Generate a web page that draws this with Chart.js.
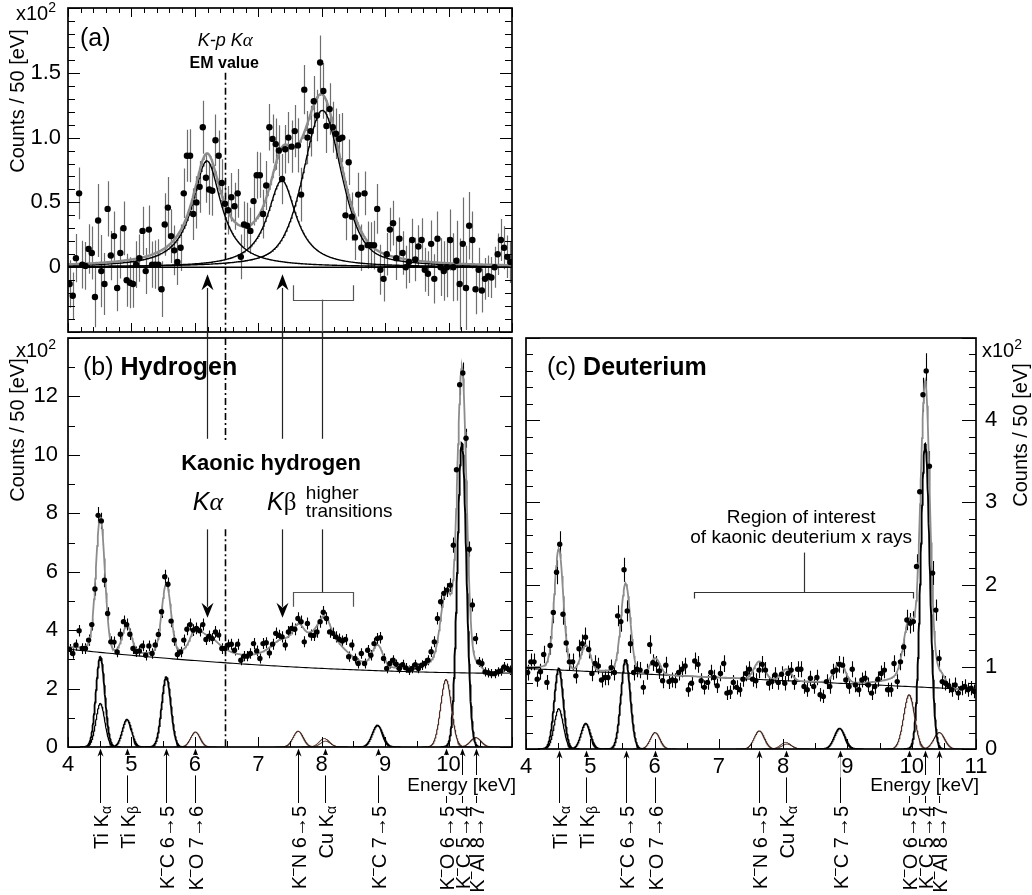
<!DOCTYPE html>
<html>
<head>
<meta charset="utf-8">
<title>Kaonic hydrogen and kaonic deuterium x-ray spectra</title>
<script src="https://cdn.jsdelivr.net/npm/chart.js@4.4.1/dist/chart.umd.min.js"></script>
<style>
  html, body { margin: 0; padding: 0; background: #fff; }
  #wrap { position: relative; width: 1032px; height: 895px; overflow: hidden; background: #fff; }
  canvas { position: absolute; }
</style>
</head>
<body>
<div id="wrap">
  <canvas id="panelA" width="520" height="338" style="left:0px;top:0px;width:520px;height:338px"></canvas>
  <canvas id="panelB" width="520" height="563" style="left:0px;top:332px;width:520px;height:563px"></canvas>
  <canvas id="panelC" width="532" height="563" style="left:500px;top:332px;width:532px;height:563px"></canvas>
</div>
<script>
const FONT = '"Liberation Sans", Arial, Helvetica, sans-serif';
const SERIF = '"Liberation Serif", "DejaVu Serif", serif';
const TICK_SIZE = 22;

// 50 eV bins between 4 and 11 keV (bin centres start at 4.025 keV)
const BIN_START = 4.025;
const BIN_WIDTH = 0.05;

// (a) hydrogen spectrum after subtraction of continuum and background lines [x10^2 counts / 50 eV]
const hydrogenSubtracted = [
  -0.13, -0.22, 0.07, 0.57, 0.02, 0.01, 0.14, 0.11, -0.23, 0.36,
  -0.03, -0.13, 0.45, 0.09, 0.24, -0.16, 0.11, 0.30, -0.10, -0.12,
  -0.13, 0.02, 0.07, 0.28, -0.03, 0.29, 0.02, 0.02, 0.02, -0.17,
  0.33, 0.46, 0.24, 0.13, 0.04, 0.15, 0.57, 0.86, 0.86, 0.41,
  0.50, 0.62, 1.08, 0.69, 0.60, 0.59, 0.98, 0.86, 0.65, 0.49,
  0.44, 0.54, 0.47, 0.57, 0.08, 0.33, 0.32, 0.28, 0.51, 0.71,
  0.71, 0.41, 0.63, 1.08, 0.99, 0.95, 0.90, 0.68, 0.91, 1.00,
  0.93, 1.05, 0.94, 0.56, 1.37, 1.00, 1.05, 1.28, 1.17, 1.58,
  1.36, 1.09, 1.22, 1.08, 1.03, 0.99, 1.00, 0.40, 0.81, 0.39,
  0.23, 0.56, 0.15, 0.57, 0.17, 0.17, 0.17, 0.45, -0.02, -0.09,
  0.10, 0.29, 0.34, 0.07, 0.22, 0.11, 0.00, 0.04, 0.21, 0.06,
  0.16, 0.21, -0.02, -0.05, 0.18, -0.09, 0.22, 0.00, -0.03, 0.00,
  0.21, 0.00, 0.05, -0.13, 0.18, -0.16, 0.32, 0.21, -0.17, -0.02,
  -0.18, -0.09, -0.07, -0.08, 0.00, 0.10, 0.21, 0.15, 0.08, 0.04
];

// (b) hydrogen target, raw spectrum [x10^2 counts / 50 eV]
const hydrogenCounts = [
  3.34, 3.20, 3.49, 3.98, 3.37, 3.37, 3.66, 4.19, 5.41, 7.93,
  7.74, 5.71, 4.57, 3.60, 3.59, 3.25, 3.86, 4.29, 4.19, 3.86,
  3.37, 3.26, 3.29, 3.46, 3.14, 3.46, 3.20, 3.49, 3.85, 4.63,
  5.83, 5.57, 4.31, 3.66, 3.17, 3.25, 3.66, 4.03, 4.19, 4.00,
  4.06, 3.98, 4.19, 3.68, 3.79, 3.71, 3.94, 3.83, 3.37, 3.37,
  3.49, 3.52, 3.31, 3.52, 2.97, 3.11, 3.11, 3.20, 3.54, 3.29,
  3.03, 3.54, 3.57, 3.22, 3.52, 3.89, 3.82, 3.77, 3.49, 3.94,
  4.06, 4.03, 4.40, 4.29, 3.60, 4.23, 3.83, 3.82, 3.94, 4.29,
  4.61, 4.40, 3.94, 3.89, 3.77, 3.69, 3.63, 3.68, 3.09, 3.49,
  3.03, 2.86, 3.20, 2.86, 3.31, 3.14, 3.54, 3.71, 3.74, 3.03,
  2.69, 2.86, 2.97, 2.83, 2.69, 2.82, 2.71, 2.63, 2.69, 2.82,
  2.69, 2.80, 2.86, 2.97, 3.26, 3.60, 4.40, 4.97, 5.26, 5.37,
  5.54, 6.91, 9.49, 12.40, 12.80, 10.57, 6.77, 4.86, 3.71, 2.91,
  2.86, 2.57, 2.54, 2.51, 2.51, 2.57, 2.60, 2.74, 2.69, 2.63
];

// (c) deuterium target, raw spectrum [x10^2 counts / 50 eV]
const deuteriumCounts = [
  0.93, 1.06, 1.06, 0.85, 0.94, 1.15, 0.81, 1.26, 1.66, 2.15,
  2.49, 1.64, 1.29, 1.06, 1.06, 0.89, 1.22, 1.28, 1.36, 1.21,
  0.92, 1.04, 1.01, 0.84, 0.87, 0.87, 0.99, 0.93, 1.62, 1.55,
  2.18, 1.68, 1.28, 0.93, 0.97, 0.96, 0.75, 0.94, 1.27, 1.05,
  1.03, 0.95, 0.83, 1.02, 0.82, 0.84, 0.83, 0.93, 0.97, 1.01,
  0.72, 0.80, 1.07, 1.03, 0.83, 0.75, 0.81, 0.93, 0.87, 0.77,
  0.92, 1.04, 0.68, 0.69, 0.81, 0.75, 0.72, 0.85, 0.92, 0.97,
  0.85, 0.83, 0.96, 1.03, 0.96, 0.80, 0.82, 0.90, 0.81, 0.91,
  0.80, 0.92, 0.96, 0.81, 0.97, 0.97, 0.76, 0.72, 0.86, 0.76,
  0.87, 0.66, 0.64, 0.82, 0.76, 0.94, 0.96, 1.03, 1.02, 0.84,
  0.76, 0.97, 0.78, 0.72, 0.84, 0.86, 0.78, 0.68, 0.76, 0.85,
  0.92, 0.96, 0.72, 0.72, 1.04, 0.82, 1.06, 1.24, 1.57, 1.53,
  1.55, 2.22, 3.13, 4.31, 4.60, 3.44, 2.14, 1.69, 1.10, 0.82,
  0.80, 0.77, 0.72, 0.78, 0.68, 0.74, 0.76, 0.72, 0.74, 0.70
];

// kaonic hydrogen lines: centroid [keV], height [x10^2], FWHM [keV], Lorentzian fraction
const khEnergy  = [6.19, 7.37, 8.01];
const khHeight  = [0.82, 0.67, 1.21];
const khWidth   = [0.55, 0.55, 0.72];
const khLorentz = [1.0, 1.0, 0.5];

// electromagnetic value of the K-p Kα energy [keV]
const EM_KALPHA = 6.48;

// identified background lines (labels under the energy axes)
const lineLabels = ['Ti Kα', 'Ti Kβ', 'K⁻C 6→5', 'K⁻O 7→6', 'K⁻N 6→5', 'Cu Kα', 'K⁻C 7→5', 'K⁻O 6→5', 'K⁻C 5→4', 'K⁻Al 8→7'];
const lineLabelEnergy = [4.51, 4.93, 5.55, 6.01, 7.63, 8.05, 8.88, 9.96, 10.21, 10.43];

// fitted background-line components: centroid [keV], gaussian sigma [keV]
const compEnergy = [4.51, 4.51, 4.93, 5.55, 6.01, 7.63, 8.04, 8.06, 8.88, 9.96, 10.21, 10.43];
const compSigma  = [0.070, 0.070, 0.072, 0.072, 0.075, 0.080, 0.080, 0.080, 0.082, 0.085, 0.072, 0.085];
const compColor  = ['#000', '#000', '#000', '#000', '#4a2c22', '#4a2c22', '#4a2c22', '#4a2c22', '#000', '#4a2c22', '#000', '#4a2c22'];
const compLineW  = [1.8, 1.2, 1.6, 1.8, 1.1, 1.1, 1.0, 1.0, 1.6, 1.2, 1.9, 1.1];
// component heights [x10^2] for hydrogen (b) and deuterium (c)
const compHeightH = [3.09, 1.49, 0.94, 2.40, 0.51, 0.54, 0.29, 0.20, 0.74, 2.31, 10.40, 0.32];
const compHeightD = [0.98, 0.49, 0.31, 1.09, 0.20, 0.22, 0.08, 0.06, 0.25, 0.66, 3.71, 0.20];
// low-energy tail fraction of each line (enters the fit total)
const compTail = [0.05, 0.05, 0.05, 0.05, 0.05, 0.05, 0, 0, 0.05, 0.10, 0.10, 0.05];
const TAIL_SLOPE = 0.3;

// smooth continuum, polynomial coefficients in (E - 4 keV)
const bgHydrogen  = [3.35, -0.2266, 0.01543];
const bgDeuterium = [0.98, -0.037, 0];

/* ---------- line shapes ---------- */
function poly(c, e) { const t = e - 4; return c[0] + c[1] * t + c[2] * t * t; }
function gauss(e, e0, s) { const d = (e - e0) / s; return Math.exp(-0.5 * d * d); }
function lowTail(e, e0, s) { return e >= e0 ? 0 : Math.exp((e - e0) / TAIL_SLOPE) * (1 - gauss(e, e0, s)); }
function pseudoVoigt(e, e0, fwhm, eta) {
  const h = (e - e0) / (fwhm / 2);
  return eta / (1 + h * h) + (1 - eta) * Math.exp(-Math.LN2 * h * h);
}
function khLine(k, e) { return khHeight[k] * pseudoVoigt(e, khEnergy[k], khWidth[k], khLorentz[k]); }
function khSignal(e) { let s = 0; for (let k = 0; k < khEnergy.length; k++) s += khLine(k, e); return s; }
function comp(h, j, e) { return h[j] * gauss(e, compEnergy[j], compSigma[j]); }
function compTotal(h, j, e) { return comp(h, j, e) + h[j] * compTail[j] * lowTail(e, compEnergy[j], compSigma[j]); }
function hydrogenFit(e) { let s = poly(bgHydrogen, e) + khSignal(e); for (let j = 0; j < compEnergy.length; j++) s += compTotal(compHeightH, j, e); return s; }
function deuteriumFit(e) { let s = poly(bgDeuterium, e); for (let j = 0; j < compEnergy.length; j++) s += compTotal(compHeightD, j, e); return s; }

function energyOf(i) { return BIN_START + i * BIN_WIDTH; }
function toPoints(vals) { return vals.map((v, i) => ({ x: energyOf(i), y: v })); }
function curve(fn, e0, e1, step) {
  const pts = []; const n = Math.round((e1 - e0) / step);
  for (let k = 0; k <= n; k++) { const e = e0 + k * step; pts.push({ x: e, y: fn(e) }); }
  return pts;
}
const poisson = vals => vals.map(v => Math.sqrt(Math.max(v, 0) * 100) / 100);

/* ---------- drawing helpers ---------- */
const snap = v => Math.round(v) + 0.5;
function vline(ctx, x, y0, y1) { ctx.beginPath(); ctx.moveTo(x, y0); ctx.lineTo(x, y1); ctx.stroke(); }
function arrowHead(ctx, x, yTip, dir, len, hw) {
  ctx.beginPath();
  ctx.moveTo(x, yTip);
  ctx.lineTo(x - hw, yTip + dir * len);
  ctx.lineTo(x, yTip + dir * len * 0.68);
  ctx.lineTo(x + hw, yTip + dir * len);
  ctx.closePath(); ctx.fill();
}
function bracket(ctx, x0, x1, yH, yEnd) {
  ctx.beginPath();
  ctx.moveTo(snap(x0), yEnd); ctx.lineTo(snap(x0), snap(yH)); ctx.lineTo(snap(x1), snap(yH)); ctx.lineTo(snap(x1), yEnd);
  ctx.stroke();
}
function dashDot(ctx, x, y0, y1) {
  ctx.save(); ctx.strokeStyle = '#000'; ctx.lineWidth = 1.6; ctx.setLineDash([7, 3, 2, 3]);
  vline(ctx, snap(x), y0, y1); ctx.restore();
}
function drawRich(ctx, parts, x, y, align) {
  let w = 0;
  for (const p of parts) { ctx.font = p.font; w += ctx.measureText(p.t).width; }
  let cx = align === 'center' ? x - w / 2 : align === 'right' ? x - w : x;
  ctx.textAlign = 'left'; ctx.textBaseline = 'alphabetic';
  for (const p of parts) { ctx.font = p.font; ctx.fillText(p.t, cx, y + (p.dy || 0)); cx += ctx.measureText(p.t).width; }
}
function labelParts(s, size) {
  const base = `${size}px ${FONT}`, small = `${Math.round(size * 0.72)}px ${FONT}`;
  const parts = []; let buf = '';
  for (const ch of s) {
    if (ch === '⁻') { if (buf) parts.push({ t: buf, font: base }); buf = ''; parts.push({ t: '–', font: small, dy: -size * 0.42 }); }
    else if (ch === 'α' || ch === 'β') { if (buf) parts.push({ t: buf, font: base }); buf = ''; parts.push({ t: ch, font: small, dy: size * 0.16 }); }
    else buf += ch;
  }
  if (buf) parts.push({ t: buf, font: base });
  return parts;
}
function yTitle(ctx, cx, cy) {
  ctx.save(); ctx.translate(cx, cy); ctx.rotate(-Math.PI / 2);
  ctx.font = `20px ${FONT}`; ctx.fillStyle = '#000'; ctx.textAlign = 'center'; ctx.textBaseline = 'middle';
  ctx.fillText('Counts / 50 [eV]', 0, 0); ctx.restore();
}
function times100(ctx, x, y) {
  ctx.fillStyle = '#000';
  drawRich(ctx, [{ t: 'x10', font: `20px ${FONT}` }, { t: '2', font: `14px ${FONT}`, dy: -8 }], x, y, 'left');
}
function drawFrame(ctx, a) {
  ctx.save(); ctx.strokeStyle = '#000'; ctx.lineWidth = 1.7;
  ctx.strokeRect(a.left, a.top, a.right - a.left, a.bottom - a.top); ctx.restore();
}
function steps(min, max, st) { const r = []; const n = Math.round((max - min) / st); for (let k = 0; k <= n; k++) r.push(min + k * st); return r; }
function isMajor(v, m) { return Math.abs(v / m - Math.round(v / m)) < 1e-6; }
function drawTicks(ctx, chart, o) {
  const { chartArea: a, scales: { x, y } } = chart;
  ctx.save(); ctx.strokeStyle = '#000'; ctx.lineWidth = 1; ctx.beginPath();
  for (const v of steps(y.min, y.max, o.yMinor)) {
    const L = isMajor(v, o.yMajor) ? o.yMaj : o.yMin;
    const py = snap(y.getPixelForValue(v));
    if (o.left) { ctx.moveTo(a.left, py); ctx.lineTo(a.left + L, py); }
    if (o.right) { ctx.moveTo(a.right, py); ctx.lineTo(a.right - L, py); }
  }
  for (const v of steps(x.min, x.max, o.xMinor)) {
    const L = isMajor(v, o.xMajor) ? o.xMaj : o.xMin;
    const px = snap(x.getPixelForValue(v));
    if (o.bottom) { ctx.moveTo(px, a.bottom); ctx.lineTo(px, a.bottom - L); }
    if (o.top) { ctx.moveTo(px, a.top); ctx.lineTo(px, a.top + L); }
  }
  ctx.stroke(); ctx.restore();
}
function drawLineMarkers(chart, labelTop) {
  const { ctx, chartArea: a, scales: { x } } = chart;
  ctx.save(); ctx.strokeStyle = '#000'; ctx.fillStyle = '#000'; ctx.lineWidth = 1;
  lineLabelEnergy.forEach((e, i) => {
    const px = snap(x.getPixelForValue(e));
    vline(ctx, px, a.bottom + 6, labelTop - 3);
    arrowHead(ctx, px, a.bottom + 1.5, 1, 8, 3);
    ctx.save(); ctx.translate(px, labelTop); ctx.rotate(-Math.PI / 2);
    drawRich(ctx, labelParts(lineLabels[i], 20), 0, 7, 'right');
    ctx.restore();
  });
  ctx.restore();
}
function energyLabel(ctx, xr, yb) {
  ctx.save(); ctx.font = `19px ${FONT}`;
  const w = ctx.measureText('Energy [keV]').width;
  ctx.fillStyle = '#fff'; ctx.fillRect(xr - w - 2, yb - 16, w + 4, 21);
  ctx.fillStyle = '#000'; ctx.textAlign = 'right'; ctx.textBaseline = 'alphabetic';
  ctx.fillText('Energy [keV]', xr, yb); ctx.restore();
}

/* error bars under the data points */
const errorBars = {
  id: 'errorBars',
  beforeDatasetsDraw(chart) {
    const { ctx, chartArea: a } = chart; const ys = chart.scales.y;
    chart.data.datasets.forEach((ds, di) => {
      if (!ds.errors) return;
      const meta = chart.getDatasetMeta(di);
      ctx.save();
      ctx.beginPath(); ctx.rect(a.left, a.top, a.right - a.left, a.bottom - a.top); ctx.clip();
      ctx.strokeStyle = ds.errorColor; ctx.lineWidth = ds.errorWidth; ctx.beginPath();
      meta.data.forEach((pt, i) => {
        const v = ds.data[i].y, e = ds.errors[i], px = snap(pt.x);
        ctx.moveTo(px, ys.getPixelForValue(v + e)); ctx.lineTo(px, ys.getPixelForValue(v - e));
      });
      ctx.stroke(); ctx.restore();
    });
  }
};

/* ---------- chart construction ---------- */
Chart.defaults.font.family = FONT;
Chart.defaults.color = '#000';

function yAxis(min, max, step, pos, width, pad, fmt) {
  return {
    type: 'linear', position: pos, min, max,
    afterFit(s) { s.width = width; s.paddingTop = 0; s.paddingBottom = 0; },
    grid: { drawOnChartArea: false, drawTicks: false }, border: { display: false },
    ticks: { stepSize: step, padding: pad, color: '#000', font: { family: FONT, size: TICK_SIZE }, callback: fmt }
  };
}
function xAxis(fmt) {
  return {
    type: 'linear', position: 'bottom', min: 4, max: 11,
    afterFit(s) { s.height = 40; s.paddingLeft = 0; s.paddingRight = 0; },
    grid: { drawOnChartArea: false, drawTicks: false }, border: { display: false },
    ticks: {
      stepSize: 1, padding: 5, autoSkip: false, maxRotation: 0, color: '#000',
      font: { family: FONT, size: TICK_SIZE },
      showLabelBackdrop: true, backdropColor: '#fff', backdropPadding: { x: 1, y: -3 },
      callback: fmt
    }
  };
}
function makeChart(id, datasets, scales, padding, plugins) {
  return new Chart(document.getElementById(id), {
    type: 'line',
    data: { datasets },
    options: {
      responsive: false, animation: false, devicePixelRatio: 1, events: [],
      layout: { padding },
      plugins: { legend: { display: false }, tooltip: { enabled: false } },
      elements: { line: { tension: 0 }, point: { radius: 0 } },
      scales
    },
    plugins
  });
}
function pointSet(vals, errs, r, errColor, errWidth) {
  return {
    data: toPoints(vals), errors: errs, showLine: false,
    pointRadius: r, pointBackgroundColor: '#000', pointBorderWidth: 0,
    errorColor: errColor, errorWidth: errWidth
  };
}
function lineSet(data, color, width) { return { data, borderColor: color, borderWidth: width, pointRadius: 0, fill: false }; }
function componentSets(h) {
  return compEnergy.map((e0, j) => lineSet(
    curve(e => comp(h, j, e), e0 - 4.5 * compSigma[j], e0 + 4.5 * compSigma[j], 0.004),
    compColor[j], compLineW[j]));
}

/* (a) background-subtracted hydrogen spectrum */
const panelAPlugin = {
  id: 'panelA',
  afterDraw(chart) {
    const { ctx, chartArea: a, scales: { x, y } } = chart;
    const X = v => x.getPixelForValue(v), Y = v => y.getPixelForValue(v);
    drawTicks(ctx, chart, { xMinor: 0.2, xMajor: 1, yMinor: 0.1, yMajor: 0.5, xMaj: 9, xMin: 5, yMaj: 12, yMin: 7, left: true, right: true, top: true, bottom: true });
    drawFrame(ctx, a);
    dashDot(ctx, X(EM_KALPHA), Y(1.5), a.bottom);
    ctx.save();
    ctx.strokeStyle = '#222'; ctx.fillStyle = '#000'; ctx.lineWidth = 1.2;
    for (const e of [khEnergy[0], khEnergy[1]]) {
      const px = snap(X(e));
      vline(ctx, px, Y(-0.16), chart.height);
      arrowHead(ctx, px, Y(-0.055), 1, 16, 6);
    }
    ctx.strokeStyle = '#555';
    bracket(ctx, X(7.55), X(8.5), Y(-0.25), Y(-0.14));
    vline(ctx, snap(X(khEnergy[2])), Y(-0.25), chart.height);
    ctx.fillStyle = '#000';
    drawRich(ctx, [{ t: '(a)', font: `25px ${FONT}` }], a.left + 12, a.top + 38, 'left');
    times100(ctx, 16, 20);
    yTitle(ctx, 18, 101);
    drawRich(ctx, [{ t: 'K-p K', font: `italic 18px ${FONT}` }, { t: 'α', font: `italic 19px ${SERIF}` }], X(EM_KALPHA), Y(1.71), 'center');
    drawRich(ctx, [{ t: 'EM value', font: `bold 16px ${FONT}` }], X(EM_KALPHA) - 1, Y(1.54), 'center');
    ctx.restore();
  }
};

makeChart('panelA', [
  pointSet(hydrogenSubtracted, poisson(hydrogenCounts), 3.2, '#6e6e6e', 1.2),
  lineSet(curve(khSignal, 4, 11, 0.01), '#8c8c8c', 2.4),
  lineSet(curve(e => khLine(0, e), 4, 11, 0.01), '#000', 1.4),
  lineSet(curve(e => khLine(1, e), 4, 11, 0.01), '#000', 1.4),
  lineSet(curve(e => khLine(2, e), 4, 11, 0.01), '#000', 1.4),
  lineSet([{ x: 4, y: 0 }, { x: 11, y: 0 }], '#000', 1.6)
], {
  x: { type: 'linear', min: 4, max: 11, display: false },
  y: yAxis(-0.5, 2.0, 0.5, 'left', 60, 7, v => (v === 0 ? '0' : (v > 0 && v < 2 ? v.toFixed(1) : '')))
}, { left: 8, right: 8, top: 8, bottom: 6 }, [errorBars, panelAPlugin]);

/* (b) hydrogen */
const panelBPlugin = {
  id: 'panelB',
  beforeDraw(chart) { drawLineMarkers(chart, chart.chartArea.bottom + 59); },
  afterDraw(chart) {
    const { ctx, chartArea: a, scales: { x, y } } = chart;
    const X = v => x.getPixelForValue(v), Y = v => y.getPixelForValue(v);
    drawTicks(ctx, chart, { xMinor: 0.5, xMajor: 1, yMinor: 1, yMajor: 2, xMaj: 10, xMin: 6, yMaj: 12, yMin: 7, left: true, right: true, top: false, bottom: true });
    drawFrame(ctx, a);
    ctx.save();
    ctx.strokeStyle = '#222'; ctx.fillStyle = '#000'; ctx.lineWidth = 1.2;
    for (const e of khEnergy) vline(ctx, snap(X(e)), 0, Y(10.55));
    dashDot(ctx, X(EM_KALPHA), a.top, Y(10.5));
    dashDot(ctx, X(EM_KALPHA), Y(7.45), a.bottom);
    ctx.strokeStyle = '#222';
    for (const e of [khEnergy[0], khEnergy[1]]) {
      const px = snap(X(e));
      vline(ctx, px, Y(7.45), Y(4.8));
      arrowHead(ctx, px, Y(4.42), -1, 15, 6);
    }
    ctx.strokeStyle = '#555';
    bracket(ctx, X(7.55), X(8.5), Y(5.3), Y(4.8));
    ctx.strokeStyle = '#222';
    vline(ctx, snap(X(khEnergy[2])), Y(5.3), Y(7.45));
    ctx.fillStyle = '#000';
    drawRich(ctx, [{ t: '(b) ', font: `25px ${FONT}` }, { t: 'Hydrogen', font: `bold 25px ${FONT}` }], a.left + 15, a.top + 37, 'left');
    times100(ctx, 16, 25);
    yTitle(ctx, 18, 98);
    drawRich(ctx, [{ t: 'Kaonic hydrogen', font: `bold 22px ${FONT}` }], X(7.2), Y(9.49), 'center');
    drawRich(ctx, [{ t: 'K', font: `italic 25px ${FONT}` }, { t: 'α', font: `italic 26px ${SERIF}` }], X(khEnergy[0]) + 1, Y(8.11), 'center');
    drawRich(ctx, [{ t: 'K', font: `italic 25px ${FONT}` }, { t: 'β', font: `25px ${SERIF}` }], X(khEnergy[1]), Y(8.11), 'center');
    drawRich(ctx, [{ t: 'higher', font: `19px ${FONT}` }], X(7.75), Y(8.49), 'left');
    drawRich(ctx, [{ t: 'transitions', font: `19px ${FONT}` }], X(7.75), Y(7.87), 'left');
    ctx.restore();
    energyLabel(ctx, a.right + 4, a.bottom + 44);
  }
};

makeChart('panelB', [
  pointSet(hydrogenCounts, poisson(hydrogenCounts), 2.7, '#000', 1.1),
  lineSet(curve(hydrogenFit, 4, 11, 0.01), '#8c8c8c', 1.8),
  lineSet(curve(e => poly(bgHydrogen, e), 4, 11, 0.05), '#000', 1.1),
  ...componentSets(compHeightH)
], {
  x: xAxis(v => (v < 11 ? String(v) : '')),
  y: yAxis(0, 14, 2, 'left', 60, 10, v => (v < 14 ? String(v) : ''))
}, { left: 8, right: 8, top: 6, bottom: 108 }, [errorBars, panelBPlugin]);

/* (c) deuterium */
const panelCPlugin = {
  id: 'panelC',
  beforeDraw(chart) { drawLineMarkers(chart, chart.chartArea.bottom + 57); },
  afterDraw(chart) {
    const { ctx, chartArea: a, scales: { x, y } } = chart;
    const X = v => x.getPixelForValue(v), Y = v => y.getPixelForValue(v);
    drawTicks(ctx, chart, { xMinor: 0.5, xMajor: 1, yMinor: 0.2, yMajor: 1, xMaj: 10, xMin: 6, yMaj: 14, yMin: 7, left: true, right: true, top: false, bottom: true });
    drawFrame(ctx, a);
    ctx.save();
    ctx.strokeStyle = '#333'; ctx.lineWidth = 1.2;
    bracket(ctx, X(6.61), X(10.02), Y(1.91), Y(1.83));
    vline(ctx, snap(X(8.32)), Y(1.91), Y(2.39));
    ctx.fillStyle = '#000';
    drawRich(ctx, [{ t: '(c) ', font: `25px ${FONT}` }, { t: 'Deuterium', font: `bold 25px ${FONT}` }], a.left + 21, a.top + 37, 'left');
    times100(ctx, a.right + 6, 25);
    yTitle(ctx, a.right + 45, 103);
    drawRich(ctx, [{ t: 'Region of interest', font: `19px ${FONT}` }], X(8.28), Y(2.75), 'center');
    drawRich(ctx, [{ t: 'of kaonic deuterium x rays', font: `19px ${FONT}` }], X(8.28), Y(2.51), 'center');
    ctx.restore();
    energyLabel(ctx, a.right + 3, a.bottom + 42);
  }
};

makeChart('panelC', [
  pointSet(deuteriumCounts, poisson(deuteriumCounts), 2.7, '#000', 1.1),
  lineSet(curve(deuteriumFit, 4, 11, 0.01), '#8c8c8c', 1.8),
  lineSet(curve(e => poly(bgDeuterium, e), 4, 11, 0.05), '#000', 1.1),
  ...componentSets(compHeightD)
], {
  x: xAxis(v => String(v)),
  y: yAxis(0, 5, 1, 'right', 50, 9, v => (v < 5 ? String(v) : ''))
}, { left: 26, right: 6, top: 6, bottom: 106 }, [errorBars, panelCPlugin]);
</script>
</body>
</html>
